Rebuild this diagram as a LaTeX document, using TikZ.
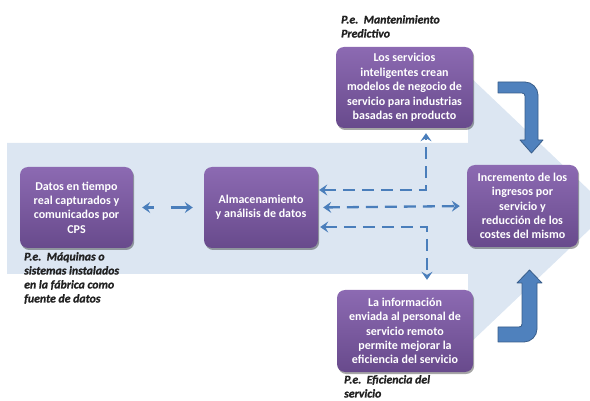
\documentclass[tikz,border=0pt]{standalone}
\usepackage{fontspec}
\setmainfont{Carlito}
\newfontfamily\notefont{Carlito}[FakeBold=1.2]
\usetikzlibrary{arrows.meta,shadows,calc}
\definecolor{bgblue}{HTML}{DCE6F2}
\definecolor{ptop}{HTML}{8C6AB2}
\definecolor{pbot}{HTML}{684A8C}
\definecolor{dblue}{HTML}{4A7EBB}
\definecolor{afill}{HTML}{4F81BD}
\definecolor{aline}{HTML}{385D8A}
\definecolor{notec}{HTML}{222222}
\tikzset{
  box/.style={rounded corners=8pt, top color=ptop, bottom color=pbot,
    text=white, font=\fontsize{12}{14.4}\selectfont\bfseries, align=center,
    inner sep=0pt,
    drop shadow={shadow xshift=1.2pt, shadow yshift=-2pt, opacity=0.35, fill=black}},
  note/.style={text=notec, font=\notefont\fontsize{11.8}{14}\selectfont\bfseries\itshape,
    align=left, inner sep=0pt, anchor=north west},
  tipa/.style={arrows={Stealth[length=8pt,width=11pt,inset=3pt]-Stealth[length=8pt,width=11pt,inset=3pt]}},
  darrow/.style={draw=dblue, line width=2.3pt, dash pattern=on 12pt off 7pt, tipa},
  sarrow/.style={draw=dblue, line width=2.3pt,
    arrows={-Stealth[length=8pt,width=11pt,inset=3pt]}},
  bigarrow/.style={fill=afill, draw=aline, line width=0.8pt, line join=round}
}
\begin{document}
\begin{tikzpicture}[x=1pt,y=-1pt]
\useasboundingbox (0,0) rectangle (590,401);
% background arrow
\fill[bgblue] (7,143) -- (468,143) -- (468,75) -- (610,210) -- (468,345) -- (468,274) -- (7,274) -- cycle;

% boxes
\node[box, minimum width=113pt, minimum height=81pt] (src) at (76.5,207.5)
  {Datos en tiempo\\real capturados y\\comunicados por\\CPS};
\node[box, minimum width=114pt, minimum height=81pt] (mid) at (261,207.5)
  {Almacenamiento\\y análisis de datos};
\node[box, minimum width=137pt, minimum height=81pt] (top) at (404.5,87.5)
  {Los servicios\\inteligentes crean\\modelos de negocio de\\servicio para industrias\\basadas en producto};
\node[box, minimum width=111pt, minimum height=82pt] (inc) at (522.5,206)
  {Incremento de los\\ingresos por\\servicio y\\reducción de los\\costes del mismo};
\node[box, minimum width=136pt, minimum height=82pt] (bot) at (405,331)
  {La información\\enviada al personal de\\servicio remoto\\permite mejorar la\\eficiencia del servicio};

% notes
\node[note] (n1) at (341,15) {P.e.\ \ Mantenimiento\\Predictivo};
\node[note] (n2) at (24,252) {P.e.\ \ Máquinas o\\sistemas instalados\\en la fábrica como\\fuente de datos};
\node[note] (n3) at (344,375) {P.e.\ \ Eficiencia del\\servicio};

% dashed connectors
\coordinate (j0) at ($(src.east)!0.5!(mid.west)$);
\coordinate (j1) at (426,190);
\coordinate (j2) at (427,227);
\draw[sarrow, shorten <=15pt, shorten >=9pt] (j0) -- (src.east);
\draw[sarrow, shorten <=2pt, shorten >=11pt] (j0) -- (mid.west);
\draw[darrow, shorten <=1pt, shorten >=5pt] (mid.east |- j1) -- (j1) -- (top.south -| j1);
\draw[darrow, shorten <=5pt, shorten >=7pt] (mid.east) -- (inc.west);
\draw[darrow, shorten <=2pt, shorten >=10pt] (mid.east |- j2) -- (j2) -- (bot.north -| j2);

% thick bent arrows
\path[bigarrow] (498,82) -- (525,82) .. controls (532,82) and (538,88) .. (538,95)
  -- (538,140) -- (543,140) -- (531.5,153) -- (520,140) -- (525,140) -- (525,96)
  .. controls (525,94.5) and (524,93) .. (522,93) -- (498,93) -- cycle;
\path[bigarrow] (498,327) -- (519,327) .. controls (521,327) and (522,326) .. (522,324)
  -- (522,283) -- (517,283) -- (529.5,270) -- (542,283) -- (537,283) -- (537,329)
  .. controls (537,336) and (531,342) .. (524,342) -- (498,342) -- cycle;
\end{tikzpicture}
\end{document}
